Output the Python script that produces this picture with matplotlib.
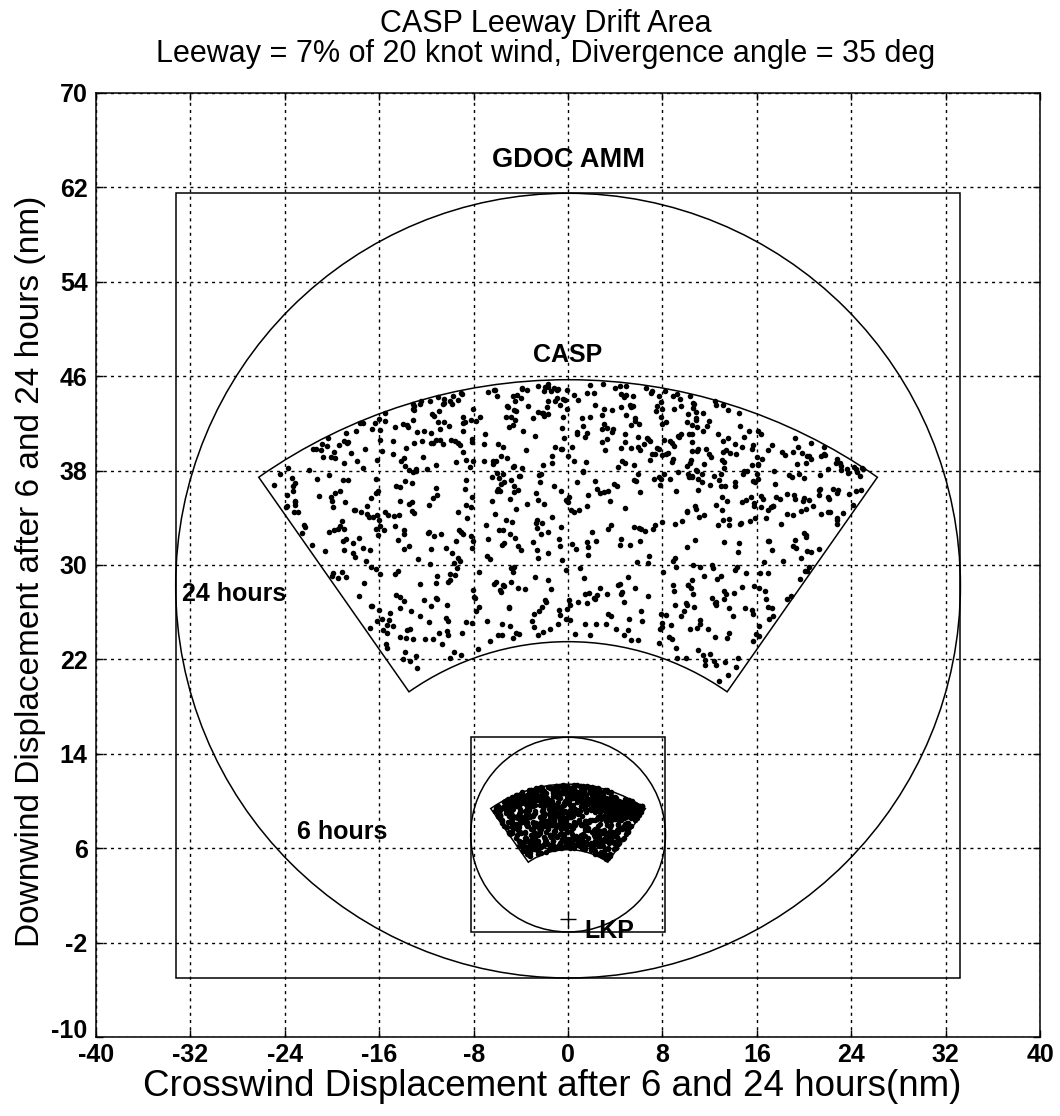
import numpy as np
import matplotlib
matplotlib.use("Agg")
import matplotlib.pyplot as plt
from matplotlib.patches import Circle, Rectangle, Wedge
from matplotlib.transforms import ScaledTranslation
from matplotlib import font_manager

plt.rcParams['font.family'] = ['Liberation Sans', 'DejaVu Sans']
plt.rcParams['axes.unicode_minus'] = False

# ---------------- data ----------------
x_ticks = list(range(-40, 41, 8))
y_ticks = list(range(-10, 71, 8))

divergence_deg = 35
casp24_range = [23.5, 45.7]          # inner / outer drift radius after 24 h (nm)
drift_hours = [6, 24]
amm24_center = (0.0, 28.25)
amm24_radius = 33.25
amm6_center = (0.0, 7.15)
amm6_radius = 8.25
lkp = (0.0, 0.0)

# CASP particles after 24 hours: range (nm) and bearing from downwind (deg)
particle_range_24h = [
    31.2, 44.1, 26.8, 38.5, 41.9, 35.3, 24.7, 43.6, 29.4, 39.8,
    37.1, 45.2, 33.6, 27.9, 42.4, 36.8, 30.5, 40.7, 25.3, 44.8,
    34.9, 28.6, 41.2, 38.0, 23.9, 43.0, 32.4, 36.2, 45.5, 29.9,
    40.3, 26.1, 35.7, 42.9, 31.8, 38.9, 44.4, 24.2, 37.6, 33.1,
    43.8, 30.2, 39.4, 27.3, 41.6, 36.5, 45.0, 28.9, 34.2, 40.0,
    25.8, 42.1, 37.9, 32.9, 44.6, 29.1, 39.1, 35.0, 43.3, 26.5,
    38.2, 41.0, 31.5, 45.3, 34.6, 24.5, 40.9, 36.9, 28.2, 42.7,
    33.9, 44.0, 27.0, 39.6, 37.3, 30.8, 43.4, 25.1, 41.4, 35.8,
    45.4, 29.6, 38.7, 32.1, 42.3, 36.0, 26.9, 44.9, 34.4, 40.5,
    24.0, 37.8, 41.8, 31.0, 43.9, 28.4, 39.2, 35.5, 45.1, 33.3,
    42.0, 27.6, 36.4, 40.1, 30.1, 44.3, 38.4, 25.6, 41.3, 34.8,
    39.9, 32.6, 45.6, 29.0, 37.0, 43.1, 26.3, 40.6, 35.2, 42.6,
    31.7, 44.7, 38.1, 24.4, 41.5, 36.6, 30.4, 43.7, 27.5, 39.0,
    35.9, 42.2, 33.0, 45.2, 28.7, 40.4, 37.5, 25.0, 44.2, 31.4,
    38.8, 26.6, 43.2, 34.0, 41.1, 29.3, 45.3, 36.1, 32.2, 40.8,
    24.8, 39.5, 42.8, 30.6, 37.7, 44.5, 27.2, 35.4, 41.7, 33.5,
    43.5, 28.0, 36.3, 40.2, 25.9, 45.0, 31.9, 38.3, 42.5, 34.3,
    29.8, 41.9, 37.2, 44.0, 32.7, 39.3, 24.1, 43.0, 35.6, 27.8,
    40.6, 33.8, 45.4, 30.0, 38.6, 42.9, 26.0, 36.7, 44.6, 31.1,
    37.4, 43.8, 28.5, 41.0, 34.5, 39.7, 25.4, 44.1, 32.0, 42.4,
    36.9, 24.6, 40.0, 45.5, 29.7, 38.0, 43.3, 27.1, 35.1, 41.6,
    31.3, 44.8, 39.1, 33.7, 42.0, 26.4, 37.8, 45.1, 30.3, 40.9,
    43.6, 28.1, 36.0, 41.4, 24.3, 39.8, 34.1, 44.4, 32.5, 38.5,
    27.4, 42.7, 35.7, 45.2, 30.9, 40.3, 37.0, 25.7, 43.9, 33.2,
    41.2, 29.2, 38.9, 44.7, 36.4, 31.6, 42.3, 26.7, 39.4, 45.0,
    34.7, 43.1, 24.9, 40.7, 37.6, 28.8, 44.2, 32.8, 41.8, 35.9,
    39.0, 26.2, 45.3, 33.4, 42.6, 30.7, 38.2, 43.4, 27.7, 36.8,
    44.9, 31.8, 40.1, 25.2, 37.9, 41.5, 34.9, 29.5, 43.7, 38.6,
    32.3, 45.4, 36.2, 42.1, 28.3, 39.6, 24.6, 44.0, 35.3, 40.8,
    41.9, 27.9, 38.4, 43.2, 33.6, 30.2, 45.6, 37.1, 26.8, 42.8,
    36.5, 44.5, 29.9, 40.4, 34.2, 42.0, 25.5, 38.7, 31.2, 43.5,
    39.3, 32.9, 45.1, 27.3, 41.1, 36.1, 43.0, 24.2, 37.4, 40.0,
    28.6, 42.5, 35.0, 44.3, 30.5, 38.3, 41.7, 26.1, 39.9, 33.9,
    45.3, 31.0, 37.7, 42.9, 25.8, 40.5, 34.4, 43.8, 29.0, 36.6,
    41.3, 38.8, 27.0, 44.6, 32.4, 39.2, 42.2, 35.5, 24.7, 45.2,
    33.1, 40.2, 43.6, 29.4, 37.3, 41.0, 26.5, 44.1, 36.3, 31.5,
    42.4, 35.8, 28.9, 39.5, 45.5, 34.0, 38.1, 24.4, 43.3, 30.8,
    37.5, 44.8, 32.0, 41.6, 27.6, 40.6, 36.7, 43.9, 25.0, 39.1,
    30.1, 42.7, 38.9, 45.0, 33.3, 29.1, 41.4, 35.2, 44.4, 26.3,
    40.9, 34.6, 43.1, 28.2, 37.8, 42.1, 31.7, 45.4, 38.0, 24.9,
    36.2, 41.8, 26.9, 44.7, 39.4, 32.6, 43.7, 30.0, 40.3, 35.4,
    45.1, 28.4, 38.6, 42.6, 34.8, 25.3, 41.2, 37.2, 44.2, 31.9,
    39.7, 43.4, 33.5, 27.5, 40.7, 36.9, 45.3, 29.8, 42.3, 24.5,
    35.6, 41.0, 44.9, 31.4, 38.2, 26.6, 43.5, 40.1, 33.7, 37.0,
    42.8, 29.3, 36.4, 45.6, 39.0, 32.2, 44.0, 27.2, 41.5, 34.1,
    38.4, 43.0, 25.6, 40.8, 35.1, 42.0, 30.4, 44.6, 37.9, 28.0,
    41.7, 33.0, 45.2, 36.8, 24.1, 39.8, 43.2, 31.1, 40.0, 27.8,
    44.3, 37.6, 29.6, 42.5, 34.3, 38.7, 26.0, 45.0, 32.7, 41.3,
    36.0, 40.4, 43.9, 28.7, 39.5, 31.3, 44.5, 35.7, 25.1, 42.9,
    30.6, 45.4, 38.1, 41.9, 33.8, 27.4, 43.6, 37.4, 40.6, 24.3,
    42.2, 35.3, 26.4, 44.8, 39.9, 32.5, 41.1, 29.7, 45.3, 36.6,
    38.9, 43.1, 31.6, 40.2, 28.5, 44.1, 34.5, 37.7, 42.7, 25.9,
    45.5, 33.2, 39.3, 27.1, 41.6, 36.1, 43.8, 30.9, 38.5, 44.4,
    32.1, 40.9, 24.8, 42.4, 37.1, 29.5, 45.1, 35.9, 41.4, 34.7,
    43.3, 26.7, 38.3, 44.7, 31.8, 40.1, 36.3, 28.3, 42.0, 39.6,
    25.4, 41.8, 44.2, 33.6, 37.3, 42.9, 30.2, 45.6, 35.0, 39.1,
    40.7, 28.8, 36.5, 43.0, 34.9, 27.7, 44.9, 38.6, 31.2, 41.2,
    37.8, 45.0, 32.3, 39.7, 26.2, 42.6, 35.5, 43.7, 29.2, 40.5,
    44.0, 34.2, 41.0, 24.6, 38.0, 30.7, 45.2, 36.7, 42.3, 33.4,
    39.2, 27.6, 43.4, 37.5, 40.8, 31.5, 44.6, 28.6, 35.8, 41.9,
    44.3, 39.1, 42.8, 36.7, 45.1, 41.5, 38.3, 43.9, 34.6, 40.2,
    26.2, 30.8, 24.9, 33.1, 28.0, 31.4, 25.7, 29.3, 32.6, 27.1,
    40.5, 44.7, 36.9, 42.0, 39.3, 45.0, 33.8, 43.6, 41.8, 37.5,
    45.3, 38.1, 43.1, 40.8, 35.9, 44.5, 42.3, 39.6, 45.2, 36.3,
    41.3, 43.8, 37.9, 45.5, 40.0, 34.4, 44.2, 42.7, 38.9, 41.6,
    29.0, 24.5, 31.9, 27.4, 33.4, 25.1, 30.0, 28.6, 32.2, 26.0,
    43.0, 38.5, 40.9, 44.6, 35.2, 42.9, 39.0, 45.3, 41.2, 37.0,
    44.8, 40.3, 36.6, 43.2, 41.7, 45.6, 38.2, 42.1, 39.7, 44.1,
    35.7, 42.5, 45.0, 39.9, 43.7, 37.4, 41.0, 44.4, 38.8, 40.7,
    31.1, 27.7, 24.3, 29.8, 33.7, 26.8, 30.4, 25.5, 28.4, 32.0,
    38.0, 43.9, 41.5, 45.1, 34.9, 42.8, 40.4, 44.7, 37.3, 43.0,
    42.0, 45.3, 39.5, 41.1, 44.0, 36.8, 43.6, 38.6, 45.4, 40.9,
    44.5, 37.1, 42.6, 40.0, 45.0, 39.1, 43.1, 35.5, 41.8, 44.2,
    24.7, 28.9, 32.8, 26.1, 30.9, 27.0, 33.2, 25.9, 29.5, 31.6,
    43.3, 45.6, 40.2, 36.5, 42.7, 44.4, 38.9, 41.6, 45.1, 39.3,
    41.0, 38.3, 44.6, 42.4, 37.9, 45.3, 40.8, 43.5, 35.8, 42.9,
    45.4, 39.6, 41.3, 44.1, 36.9, 43.2, 40.3, 45.0, 38.1, 42.1,
    27.3, 31.3, 25.0, 29.1, 33.9, 26.5, 30.3, 24.1, 32.5, 28.2,
    42.2, 40.1, 45.2, 37.2, 43.9, 38.7, 44.5, 41.4, 39.4, 45.6,
    29.8, 26.4, 31.5, 24.2, 33.0, 27.8, 30.6, 25.3, 32.4, 28.9,
    44.0, 41.7, 38.5, 45.3, 42.6, 36.7, 43.4, 40.5, 45.1, 39.2,
    43.6, 37.4, 44.9, 41.0, 39.9, 45.4, 42.0, 38.2, 44.2, 40.0,
    36.3, 42.8, 45.0, 40.9, 43.1, 38.8, 41.5, 44.7, 37.0, 45.5,
    30.6, 26.3, 33.0, 28.7, 24.6, 31.8, 27.5, 29.7, 25.4, 32.9,
    45.6, 40.6, 43.0, 37.6, 41.8, 44.1, 39.3, 42.7, 45.3, 35.6,
    38.6, 43.5, 41.1, 45.0, 40.2, 37.8, 44.8, 42.1, 39.5, 43.2,
    42.9, 36.1, 44.3, 39.1, 45.4, 41.4, 38.4, 43.7, 40.8, 44.5,
    34.2, 31.9, 28.3, 35.0, 30.3, 33.5, 26.9, 32.8, 29.4, 34.7,
    44.0, 42.3, 38.9, 45.1, 40.3, 43.3, 37.3, 41.6, 45.5, 39.8,
    25.6, 29.2, 32.3, 27.2, 30.7, 24.8, 33.5, 28.1, 26.6, 31.0,
    39.0, 44.2, 40.7, 42.0, 45.3, 37.5, 41.3, 43.6, 38.3, 44.9,
    45.0, 41.0, 36.4, 43.4, 39.6, 44.7, 42.2, 40.5, 45.4, 37.9,
    40.1, 43.1, 45.1, 38.7, 41.7, 44.3, 39.2, 42.8, 36.0, 45.5,
    28.5, 32.1, 26.9, 30.1, 24.4, 33.3, 27.9, 31.5, 25.3, 29.6,
    42.4, 45.0, 39.9, 36.5, 44.1, 41.2, 43.2, 38.0, 45.3, 40.4,
]
particle_bearing_deg = [
    -12.3, 27.8, 3.4, -30.1, 18.6, -5.7, 33.2, -21.4, 9.9, -0.8,
    24.5, -16.9, 6.2, -33.5, 14.0, -26.2, 30.7, -8.4, 20.3, -2.6,
    -19.8, 11.5, -28.7, 1.9, 32.4, -13.6, 22.1, -4.3, 16.8, -31.9,
    7.6, -23.0, 28.9, -10.5, 0.6, 19.4, -34.1, 12.7, -17.2, 25.6,
    -6.8, 31.3, -25.1, 4.7, -14.8, 21.9, -1.5, 34.0, -29.3, 10.2,
    17.5, -20.6, 26.3, -11.9, 2.8, -32.7, 15.1, -7.3, 29.6, -22.8,
    8.9, -3.9, 23.7, -27.4, 13.3, -15.6, 33.8, -9.2, 5.5, -24.7,
    30.0, -18.1, 0.2, 20.9, -30.8, 11.0, -6.1, 27.1, -13.0, 18.0,
    -2.1, 25.0, -26.9, 9.4, -34.4, 16.2, -10.8, 31.8, -19.3, 4.1,
    22.7, -8.9, 14.6, -23.8, 6.9, -16.3, 29.1, -0.3, 12.1, -31.2,
    -15.0, 3.0, 32.9, -28.1, 19.8, -5.2, 24.2, -12.6, 8.3, -20.0,
    26.8, -33.0, 15.9, -9.6, 1.2, 21.3, -25.7, 10.7, -3.3, 34.5,
    -17.7, 7.1, -29.9, 28.3, -11.3, 17.1, -1.0, 23.3, -22.1, 13.8,
    -7.9, 30.4, -14.2, 5.0, -32.3, 19.1, -24.0, 11.8, 27.5, -4.8,
    2.3, -19.0, 33.5, -8.1, 15.4, -27.0, 9.0, -13.9, 22.5, -0.5,
    -31.0, 18.3, -6.5, 25.9, -21.0, 12.4, -16.6, 31.0, 4.5, -10.1,
    20.1, -2.9, 28.0, -33.8, 8.0, -12.0, 16.5, -26.4, 1.6, 24.8,
    -9.0, 13.0, -23.3, 34.3, -4.0, 21.1, -18.4, 6.6, -30.4, 29.4,
    10.9, -15.3, 3.7, -28.4, 26.1, -7.0, 17.8, -1.8, 32.1, -20.9,
    -25.4, 14.3, -11.6, 23.0, 0.9, -34.6, 19.6, -5.9, 7.9, -17.9,
    31.5, -3.6, 12.9, -22.4, 27.3, -9.8, 4.9, -29.0, 16.0, -13.3,
    21.6, -0.1, -27.7, 9.6, -16.0, 33.0, -6.3, 25.3, -19.6, 2.0,
    -32.0, 18.9, -10.3, 11.3, -24.4, 29.8, -2.3, 14.9, -14.5, 6.3,
    24.0, -21.7, 34.2, -8.6, 3.2, -18.7, 20.6, -30.0, 10.4, -4.6,
    -12.9, 28.6, -26.0, 5.8, 17.3, -1.3, -33.2, 22.8, -7.6, 13.6,
    0.4, -16.4, 30.2, -23.6, 8.6, -11.1, 26.6, -3.0, 19.2, -28.9,
    15.6, -5.4, 32.6, -20.3, 2.5, -31.5, 11.6, -14.0, 23.9, -9.4,
    -1.1, 27.7, -18.8, 7.4, -25.9, 16.4, -34.0, 21.0, -6.7, 12.2,
    29.2, -12.4, 4.3, -22.6, 33.6, -8.2, 18.2, -27.2, 0.0, 25.5,
    -15.8, 9.2, -30.5, 14.1, -3.8, 26.0, -19.9, 6.0, -10.7, 31.6,
    3.9, -24.9, 20.4, -7.8, 12.5, -33.4, 28.2, -2.0, 17.0, -14.7,
    -21.2, 34.4, -5.0, 10.0, -28.0, 22.2, -11.7, 1.4, 30.9, -17.4,
    8.5, -0.6, 24.4, -26.6, 15.3, -9.1, 5.2, -32.5, 19.0, -4.4,
    -13.4, 27.0, -20.5, 11.2, -1.6, 32.0, -23.1, 7.2, -16.1, 23.6,
    1.0, -29.6, 16.9, -6.0, 29.9, -12.2, 13.1, -34.2, 21.7, -3.2,
    -18.2, 6.4, -25.0, 25.2, -8.8, 18.5, -31.4, 9.8, -0.9, 33.3,
    14.4, -22.9, 2.6, -10.4, 28.5, -15.5, 20.0, -4.9, 10.5, -27.5,
    -7.4, 31.1, -17.0, 4.0, -33.7, 23.4, -12.8, 15.8, -1.9, 26.4,
    19.7, -28.3, 8.2, -20.2, 34.6, -5.5, 12.0, -24.1, 0.7, 17.6,
    -10.0, 22.4, -32.8, 13.9, -3.5, 30.3, -16.8, 5.6, -26.3, 9.3,
    27.9, -13.7, 1.8, -21.8, 16.7, -8.0, 33.9, -30.2, 11.9, -0.2,
    -23.5, 20.7, -6.9, 7.7, -29.4, 25.8, -11.4, 3.5, -18.5, 31.7,
    12.8, -2.4, 29.0, -15.9, 6.8, -25.6, 18.7, -34.3, 22.9, -9.7,
    -4.1, 14.8, -27.8, 32.7, -13.1, 0.3, 24.6, -19.1, 10.3, -7.1,
    21.4, -31.6, 5.3, -16.7, 28.4, -1.4, 13.4, -22.0, 34.1, -11.8,
    -5.8, 17.2, -24.6, 9.1, -33.1, 26.9, -14.4, 2.1, 20.8, -28.6,
    30.6, -8.5, 11.4, -20.8, 4.4, -12.5, 23.1, -3.1, 15.0, -30.9,
    -17.3, 8.8, -0.4, 27.4, -23.9, 18.1, -6.4, 33.4, -26.7, 12.3,
    2.7, -19.5, 25.7, -10.9, 16.1, -32.2, 6.1, -15.2, 29.5, -2.8,
    -21.5, 11.7, -8.3, 31.9, -28.8, 20.5, -4.5, 14.2, -12.7, 24.3,
    7.3, -34.5, 19.3, -1.2, 26.2, -17.6, 9.7, -24.3, 32.3, -6.6,
    15.7, -11.0, 3.1, -29.7, 22.0, -14.9, 28.7, -3.7, 10.8, -20.4,
    -26.5, 5.9, -9.3, 17.9, -0.7, 34.4, -18.0, 12.6, -31.7, 21.2,
    -5.3, 29.3, -13.8, 8.1, -22.7, 24.9, -2.2, 16.3, -33.6, 1.5,
    13.5, -27.1, 31.4, -7.7, 19.5, -16.2, 4.8, -11.5, 26.5, -24.2,
    -0.4, 22.6, -19.4, 10.6, -30.3, 15.5, -8.7, 33.1, -14.1, 6.7,
    28.1, -3.4, -25.3, 18.4, -10.2, 3.6, -32.9, 24.1, -17.5, 9.5,
    -6.2, 30.8, -21.3, 14.7, -1.7, 20.2, -28.2, 7.0, -12.1, 27.2,
    1.1, -15.7, 32.8, -23.2, 11.1, -4.7, 17.4, -29.8, 22.3, -9.5,
    -19.7, 5.1, 25.1, -13.5, 34.0, -7.2, 13.7, -26.1, 0.1, 19.9,
    14.2, -27.5, 3.8, -9.1, 30.3, -19.6, 22.6, -1.4, -33.0, 8.7,
    -15.2, 25.4, -6.6, 17.7, -29.1, 1.3, 33.7, -22.3, 10.8, -4.2,
    28.4, -12.7, 6.5, -24.5, 19.0, -31.8, 12.3, -0.9, 24.7, -17.8,
    -8.0, 31.9, -20.1, 4.6, -13.2, 26.0, -34.2, 15.9, -5.0, 21.2,
    9.3, -26.8, 34.1, -11.5, 0.5, -18.3, 27.3, -2.7, 16.4, -30.5,
    -23.7, 11.1, -7.7, 29.5, -16.5, 5.4, -32.6, 20.5, -10.0, 13.9,
    32.2, -3.1, 18.8, -25.8, 7.9, -14.6, 23.4, -28.5, 2.2, -20.9,
    -1.9, 15.0, -31.3, 26.7, -9.7, 33.2, -17.1, 4.2, -24.0, 11.7,
    20.9, -6.1, 28.8, -13.8, 9.8, -33.4, 17.2, -21.0, 0.8, 30.7,
    -27.9, 6.9, -11.0, 24.2, -4.6, 13.4, -19.2, 31.5, -8.6, 2.9,
    16.8, -30.0, 22.0, -2.5, 34.3, -15.7, 8.4, -25.1, 19.7, -12.0,
    -6.9, 27.0, -21.6, 12.6, -0.3, -28.8, 5.9, 25.1, -16.0, 32.6,
    10.2, -3.7, 18.0, -33.9, 29.0, -9.4, 14.7, -23.1, 1.7, 21.7,
    -13.1, 33.4, -26.1, 7.4, -18.9, 23.9, -1.0, 11.5, -30.9, 16.3,
    4.0, -22.8, 30.1, -7.2, 19.4, -14.3, 26.3, -34.0, 9.0, -2.0,
    -17.4, 13.0, -5.6, 28.1, -25.3, 2.4, 21.4, -11.8, 34.5, -29.7,
    6.2, -20.4, 15.5, -0.6, 31.1, -9.9, 23.2, -27.0, 11.9, -15.4,
    25.8, -32.1, 3.3, -12.4, 18.5, -4.8, 29.7, -22.1, 8.0, -7.5,
    -19.0, 10.6, -28.2, 33.0, -2.2, 17.0, -24.8, 5.2, 24.5, -14.0,
    2.0, -18.0, 12.5, -6.0, 27.2, -25.0, 20.0, -11.2, 31.0, -30.8,
    -10.6, 22.7, -31.0, 16.1, -4.0, 9.6, -23.4, 34.2, -16.8, 0.0,
    27.6, -8.3, 13.7, -29.3, 4.5, -14.9, 31.7, -21.9, 19.2, -1.6,
    -26.4, 7.6, -12.9, 21.8, -33.6, 15.3, -5.3, 28.6, -18.6, 10.4,
    33.8, -0.2, -22.6, 8.8, -10.3, 24.0, -29.9, 17.4, -7.0, 3.6,
    -15.9, 29.3, -3.4, 12.0, -27.1, 20.3, -9.0, 32.3, -20.7, 5.7,
    23.0, -32.4, 1.0, -13.5, 16.6, -24.2, 30.5, -6.4, 10.1, -17.2,
    -2.9, 18.6, -28.0, 26.4, -11.4, 6.7, -34.4, 14.4, -19.8, 31.3,
    -8.8, 20.6, -16.2, 2.6, -27.3, 11.2, -3.9, 25.6, -22.4, 15.2,
    30.0, -12.1, 7.1, -21.3, 22.9, -5.9, 33.5, -26.6, 13.1, -0.7,
    -31.5, 17.9, -9.6, 4.8, -18.2, 27.8, -14.2, 9.4, -24.3, 34.0,
    19.9, -1.2, -29.5, 12.8, -7.9, 25.0, -20.0, 3.0, 31.8, -13.6,
    -4.4, 29.9, -23.8, 15.7, -11.7, 6.3, -33.2, 21.5, -16.7, 1.9,
    11.4, -26.2, 32.9, -6.8, 18.3, -15.1, 24.9, -2.3, -30.4, 8.3,
    -21.1, 4.3, 27.5, -9.2, 14.0, -28.6, 20.7, -12.6, 0.3, 33.1,
    -17.0, 9.9, -5.1, 23.6, -32.0, 16.9, -0.1, 28.3, -24.6, 12.1,
]

title_lines = ["CASP Leeway Drift Area",
               "Leeway = 7% of 20 knot wind, Divergence angle = 35 deg"]
x_label = "Crosswind Displacement after 6 and 24 hours(nm)"
y_label = "Downwind Displacement after 6 and 24 hours (nm)"

# narrow face for the tick numbers when it is installed
installed = {f.name for f in font_manager.fontManager.ttflist}
if 'Liberation Sans Narrow' in installed:
    tick_family, tick_size = ['Liberation Sans Narrow', 'Liberation Sans'], 21
else:
    tick_family, tick_size = ['Liberation Sans', 'DejaVu Sans'], 18

# ---------------- figure ----------------
fig = plt.figure(figsize=(10.6, 11.16), dpi=100)
ax = fig.add_axes([0.0906, 0.0708, 0.8906, 0.8459])

lw = 1.1
ax.set_xlim(-40, 40)
ax.set_ylim(-10, 70)
ax.set_xticks(x_ticks)
ax.set_yticks(y_ticks)
ax.grid(True, color='black', linestyle=(0, (2.2, 3.0)), linewidth=1.0)
ax.set_axisbelow(True)
ax.tick_params(direction='in', length=5, top=True, right=True,
               labelsize=tick_size, width=1)
ax.tick_params(axis='x', pad=4)
ax.tick_params(axis='y', pad=6)
for lab in ax.get_xticklabels() + ax.get_yticklabels():
    lab.set_fontweight('bold')
    lab.set_family(tick_family)
for sp in ax.spines.values():
    sp.set_linewidth(1.1)
# the bottom y label sits a little higher, clear of the x labels
ylab0 = ax.get_yticklabels()[0]
ylab0.set_transform(ylab0.get_transform() +
                    ScaledTranslation(0, 6 / 72, fig.dpi_scale_trans))

rng24 = np.array(particle_range_24h)
brg = np.radians(np.array(particle_bearing_deg))

for h in drift_hours:
    f = h / drift_hours[-1]
    r_in, r_out = casp24_range[0] * f, casp24_range[1] * f
    ax.add_patch(Wedge(lkp, r_out, 90 - divergence_deg, 90 + divergence_deg,
                       width=r_out - r_in, fill=False, ec='black', lw=lw))
    ax.plot(lkp[0] + rng24 * f * np.sin(brg), lkp[1] + rng24 * f * np.cos(brg),
            'o', color='black', ms=4.0, mec='none')

for (cx, cy), rad in [(amm24_center, amm24_radius), (amm6_center, amm6_radius)]:
    ax.add_patch(Circle((cx, cy), rad, fill=False, ec='black', lw=lw))
    ax.add_patch(Rectangle((cx - rad, cy - rad), 2 * rad, 2 * rad,
                           fill=False, ec='black', lw=lw))

ax.plot([lkp[0]], [lkp[1]], '+', color='black', ms=11, mew=1.0)

tkw = dict(fontweight='bold', color='black')
ax.text(0, 64.3, "GDOC AMM", ha='center', va='center', fontsize=19.5, **tkw)
ax.text(0, 47.8, "CASP", ha='center', va='center', fontsize=18, **tkw)
ax.text(-32.7, 27.5, "24 hours", ha='left', va='center', fontsize=18, **tkw)
ax.text(-23.0, 7.4, "6 hours", ha='left', va='center', fontsize=18, **tkw)
ax.text(1.4, -1.0, "LKP", ha='left', va='center', fontsize=18, **tkw)

ax.set_title("\n".join(title_lines), fontsize=22, pad=22, linespacing=1.0,
             x=0.476)
ax.set_xlabel(x_label, fontsize=26.5, labelpad=2, x=0.483)
ax.set_ylabel(y_label, fontsize=24, labelpad=4, y=0.493)

fig.savefig("out.png", dpi=100)
